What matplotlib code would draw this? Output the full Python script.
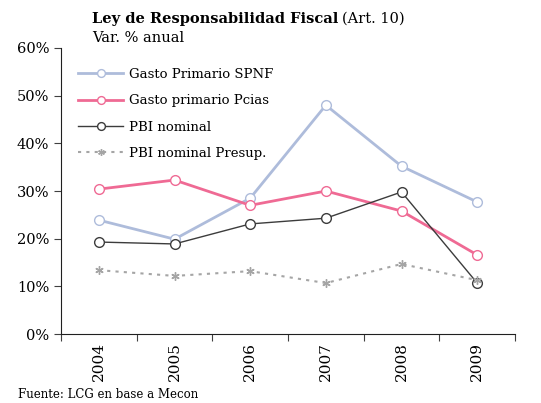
import numpy as np
import matplotlib.pyplot as plt

plt.rcParams['font.family'] = ['DejaVu Serif']

# data (Var. % anual)
years = ['2004', '2005', '2006', '2007', '2008', '2009']
gasto_spnf = [23.9, 19.9, 28.5, 48.0, 35.2, 27.7]
gasto_pcias = [30.4, 32.3, 27.0, 30.0, 25.8, 16.6]
pbi_nominal = [19.3, 18.9, 23.1, 24.3, 29.8, 10.7]
pbi_presup = [13.4, 12.2, 13.2, 10.7, 14.7, 11.3]

fig = plt.figure(figsize=(5.41, 4.03), dpi=100)
ax = fig.add_axes([0.1128, 0.171, 0.8392, 0.710])

x = np.arange(len(years))

ax.plot(x, gasto_spnf, color='#AEBCDB', lw=2, marker='o', ms=7,
        mfc='white', mec='#AEBCDB', label='Gasto Primario SPNF')
ax.plot(x, gasto_pcias, color='#EF6A94', lw=2, marker='o', ms=7,
        mfc='white', mec='#EF6A94', label='Gasto primario Pcias')
ax.plot(x, pbi_nominal, color='#3C3C3C', lw=1, marker='o', ms=7,
        mfc='white', mec='#3C3C3C', label='PBI nominal')
ax.plot(x, pbi_presup, color='#A5A5A5', lw=1.5, ls=(0, (1.5, 2.5)),
        marker=(6, 2, 0), ms=6, mec='#A5A5A5', label='PBI nominal Presup.')

ax.set_xlim(-0.5, len(years) - 0.5)
ax.set_ylim(0, 60)
ax.set_yticks(np.arange(0, 61, 10))
ax.set_yticklabels([f'{v}%' for v in range(0, 61, 10)], fontsize=10.5)

# category boundary ticks
ax.set_xticks(np.arange(-0.5, len(years), 1.0))
ax.set_xticklabels([])
ax.set_xticks(x, minor=True)
ax.set_xticklabels(years, minor=True, rotation=90, fontsize=11)
ax.tick_params(axis='x', which='minor', length=0, pad=6)
ax.tick_params(axis='x', which='major', direction='out', length=5, color='#404040')
ax.tick_params(axis='y', direction='out', length=5, color='#404040')

ax.spines['top'].set_visible(False)
ax.spines['right'].set_visible(False)
for s in ['left', 'bottom']:
    ax.spines[s].set_color('#202020')

ax.legend(loc='upper left', bbox_to_anchor=(0.026, 0.948), frameon=False,
          fontsize=9.5, handlelength=3.4, handletextpad=0.45, labelspacing=1.0,
          borderaxespad=0.0, markerscale=0.8)

fig.text(0.170, 0.953, 'Ley de Responsabilidad Fiscal', fontsize=10.5, fontweight='bold',
         ha='left', va='center')
fig.text(0.632, 0.953, '(Art. 10)', fontsize=10.5, ha='left', va='center')
fig.text(0.170, 0.906, 'Var. % anual', fontsize=10.5, ha='left', va='center')
fig.text(0.033, 0.022, 'Fuente: LCG en base a Mecon', fontsize=8.5, ha='left', va='center')

fig.savefig('out.png', dpi=100)
